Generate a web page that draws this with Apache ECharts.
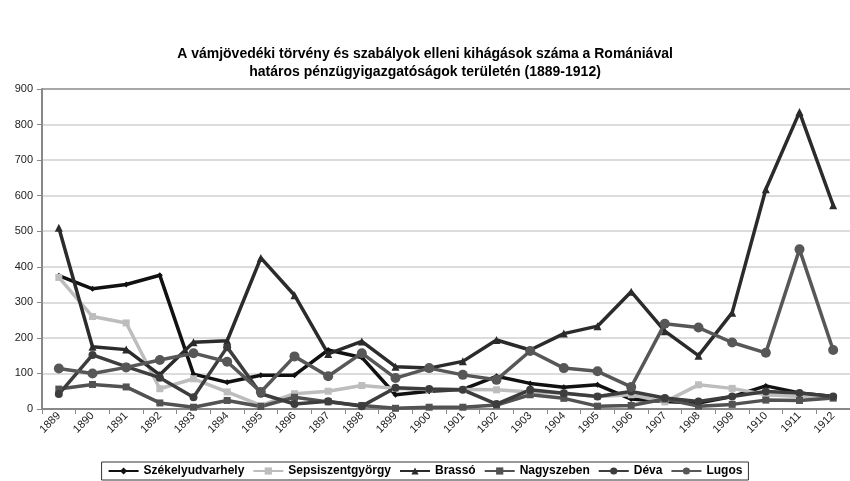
<!DOCTYPE html>
<html>
<head>
<meta charset="utf-8">
<script src="https://cdn.jsdelivr.net/npm/echarts@6/dist/echarts.min.js"></script>
<style>
  html, body { margin: 0; padding: 0; background: #fff; }
  #chart { width: 850px; height: 481px; }
</style>
</head>
<body>
<div id="chart"></div>
<script>
const years = ["1889","1890","1891","1892","1893","1894","1895","1896","1897","1898","1899","1900",
  "1901","1902","1903","1904","1905","1906","1907","1908","1909","1910","1911","1912"];

const szekelyudvarhely = [375,338,350,376,98,75,95,95,166,145,40,50,55,92,72,61,68,28,21,17,35,65,45,35];
const sepsiszentgyorgy = [370,260,242,57,85,48,10,43,50,66,58,55,55,54,48,45,35,40,20,68,58,40,35,30];
const brasso = [510,175,167,96,188,192,425,320,155,190,119,115,134,194,166,212,233,330,219,150,271,618,835,573];
const nagyszeben = [56,69,62,17,5,24,7,33,20,10,2,5,5,11,40,30,8,10,28,8,13,25,24,31];
const deva = [42,152,119,88,33,174,43,14,22,8,60,56,54,14,54,44,35,49,31,21,35,49,45,35];
const lugos = [114,100,117,138,157,133,48,148,92,157,87,115,96,82,163,115,106,62,240,229,187,158,449,166];

const chart = echarts.init(document.getElementById("chart"));

function line(name, data, color, symbol, size) {
  return {
    name: name,
    type: "line",
    data: data,
    symbol: symbol,
    symbolSize: size,
    showAllSymbol: true,
    lineStyle: { color: color, width: 3.5 },
    itemStyle: { color: color },
  };
}

const gridColors = ["#dcdcdc","#dcdcdc","#dcdcdc","#dcdcdc","#dcdcdc","#dcdcdc","#dcdcdc","#dcdcdc","#dcdcdc","#a8a8a8"];

chart.setOption({
  animation: false,
  title: {
    text: "A vámjövedéki törvény és szabályok elleni kihágások száma a Romániával\nhatáros pénzügyigazgatóságok területén (1889-1912)",
    left: "center",
    top: 40,
    textStyle: {
      fontFamily: "Liberation Sans",
      fontSize: 14,
      fontWeight: "bold",
      color: "#000",
      lineHeight: 18,
    },
  },
  legend: {
    bottom: 1,
    left: "center",
    itemGap: 8,
    itemWidth: 30,
    itemHeight: 9,
    padding: [3, 6],
    borderColor: "#333",
    borderWidth: 1,
    textStyle: { fontFamily: "Liberation Sans", fontSize: 12, fontWeight: "bold", color: "#000" },
    data: ["Székelyudvarhely", "Sepsiszentgyörgy", "Brassó", "Nagyszeben", "Déva", "Lugos"],
  },
  grid: { left: 42, top: 89, bottom: 72, width: 815 },
  xAxis: {
    type: "category",
    data: years,
    boundaryGap: true,
    axisLine: { lineStyle: { color: "#888", width: 2 } },
    axisTick: { show: true, alignWithLabel: false, lineStyle: { color: "#888" } },
    axisLabel: {
      rotate: 45,
      interval: 0,
      fontFamily: "Liberation Sans",
      fontSize: 11,
      color: "#222",
      margin: 5,
    },
  },
  yAxis: {
    type: "value",
    min: 0,
    max: 900,
    interval: 100,
    axisLine: { show: true, lineStyle: { color: "#888", width: 2 } },
    axisTick: { show: true, lineStyle: { color: "#888" } },
    axisLabel: { fontFamily: "Liberation Sans", fontSize: 11, color: "#222", margin: 9 },
    splitLine: { lineStyle: { color: gridColors, width: 2 } },
  },
  series: [
    line("Székelyudvarhely", szekelyudvarhely, "#111111", "diamond", 6),
    line("Sepsiszentgyörgy", sepsiszentgyorgy, "#bdbdbd", "rect", 7),
    line("Brassó", brasso, "#2b2b2b", "triangle", 8),
    line("Nagyszeben", nagyszeben, "#525252", "rect", 7),
    line("Déva", deva, "#3d3d3d", "circle", 8),
    line("Lugos", lugos, "#575757", "circle", 10),
  ],
});
</script>
</body>
</html>
